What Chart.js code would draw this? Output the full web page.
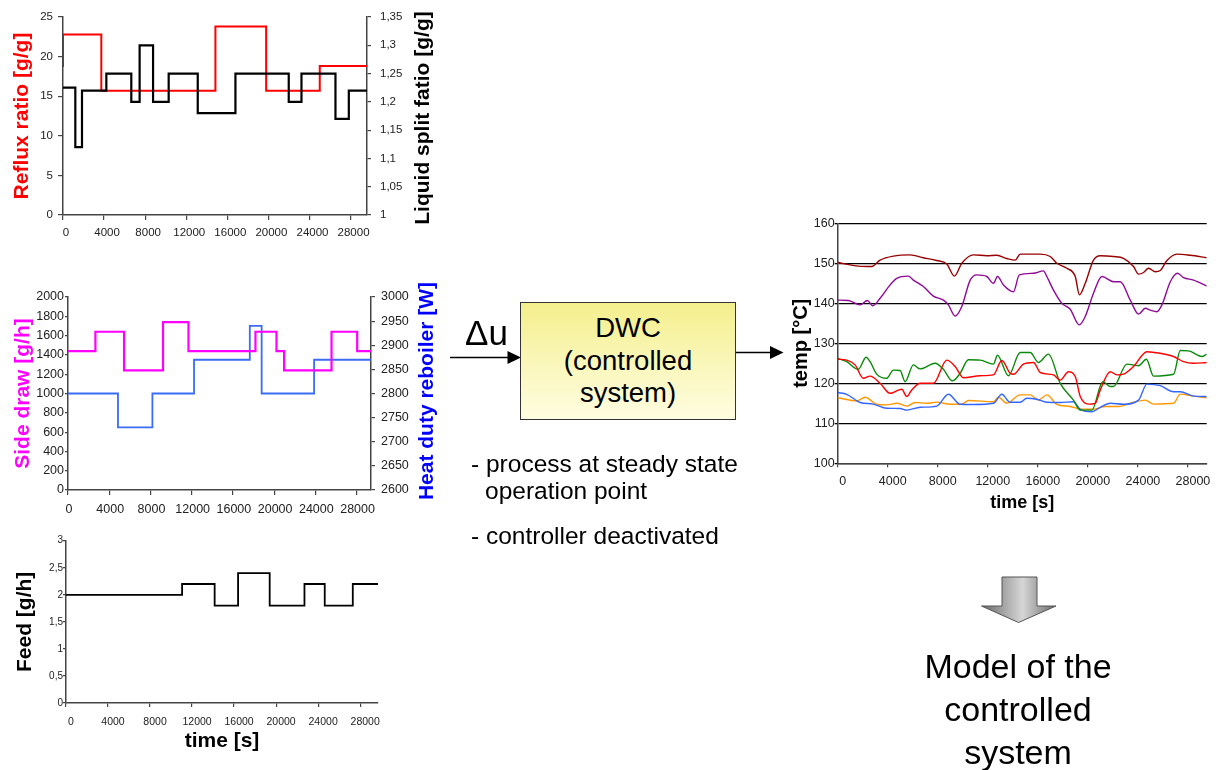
<!DOCTYPE html>
<html><head><meta charset="utf-8">
<script src="https://cdn.jsdelivr.net/npm/chart.js@4.4.1/dist/chart.umd.min.js"></script>
<style>
html,body{margin:0;padding:0;background:#fff;}
#stage{position:relative;width:1219px;height:770px;overflow:hidden;font-family:"Liberation Sans",Arial,sans-serif;color:#000;}
canvas{position:absolute;}
.vt{position:absolute;transform:translate(-50%,-50%) rotate(-90deg);white-space:nowrap;font-weight:bold;font-size:21px;line-height:1;}
.txt{position:absolute;white-space:nowrap;line-height:1;}
#box{position:absolute;left:520px;top:302px;width:216px;height:118px;box-sizing:border-box;border:1px solid #333;
 background:linear-gradient(to bottom,#f4ef8c 0%,#faf7bd 55%,#fefde0 100%);text-align:center;font-size:27.5px;line-height:32.5px;padding-top:9px;}
</style></head>
<body><div id="stage">
<canvas id="c1" width="440" height="245" style="left:0;top:0;width:440px;height:245px"></canvas>
<canvas id="c2" width="450" height="250" style="left:0;top:270px;width:450px;height:250px"></canvas>
<canvas id="c3" width="400" height="240" style="left:0;top:530px;width:400px;height:240px"></canvas>
<canvas id="c4" width="439" height="310" style="left:780px;top:210px;width:439px;height:310px"></canvas>

<div class="vt" style="left:421px;top:118px;color:#000">Liquid split fatio [g/g]</div>
<div class="vt" style="left:425px;top:391px;color:#0000ff">Heat duty reboiler [W]</div>

<svg width="1219" height="770" style="position:absolute;left:0;top:0;pointer-events:none">
 <defs>
  <linearGradient id="gArrow" x1="0" y1="0" x2="1" y2="0">
   <stop offset="0" stop-color="#6a6a6a"/>
   <stop offset="0.55" stop-color="#d6d6d6"/>
   <stop offset="1" stop-color="#6a6a6a"/>
  </linearGradient>
 </defs>
 <line x1="450" y1="357.5" x2="510" y2="357.5" stroke="#000" stroke-width="1.5"/>
 <polygon points="521,357.5 507.5,351 507.5,364" fill="#000"/>
 <line x1="736" y1="352.5" x2="773" y2="352.5" stroke="#000" stroke-width="1.5"/>
 <polygon points="783.5,352.5 770,346 770,359" fill="#000"/>
 <polygon points="1002,577 1037,577 1037,606 1056,606 1018.5,622.5 981.5,606 1002,606" fill="url(#gArrow)" stroke="#555" stroke-width="1"/>
</svg>

<div class="txt" style="left:465px;top:315px;font-size:35px;">Δu</div>
<div id="box">DWC<br>(controlled<br>system)</div>
<div class="txt" style="left:471px;top:452px;font-size:24.5px;">- process at steady state</div>
<div class="txt" style="left:485px;top:479px;font-size:24.5px;">operation point</div>
<div class="txt" style="left:471px;top:524px;font-size:24.5px;">- controller deactivated</div>
<div class="txt" style="left:918px;top:645px;width:200px;text-align:center;font-size:34px;line-height:43px;">Model of the<br>controlled<br>system</div>
</div>
<script>
// ---------- DATA ----------
// shared time tick labels [s]
const timeTicks = [0, 4000, 8000, 12000, 16000, 20000, 24000, 28000];

// Top: reflux ratio [g/g] (left axis) and liquid split ratio [g/g] (right axis)
const refluxTime  = [0, 0, 3730, 14840, 19780, 25000, 29600];
const refluxRatio = [18.7, 22.8, 15.7, 23.8, 15.7, 18.8, 18.8];
const splitTime   = [0, 1200, 1850, 4220, 6650, 7460, 8770, 10290, 13120, 16790, 21980, 23220, 26530, 27830, 29600];
const splitRatio  = [1.225, 1.12, 1.22, 1.25, 1.20, 1.30, 1.20, 1.25, 1.18, 1.25, 1.20, 1.25, 1.17, 1.22, 1.22];
const refluxTicks = [0, 5, 10, 15, 20, 25];
const splitTicks  = [1, 1.05, 1.1, 1.15, 1.2, 1.25, 1.3, 1.35];

// Middle: side draw [g/h] (left) and heat duty reboiler [W] (right)
const sideTime  = [0, 2660, 5440, 9220, 11690, 18190, 20230, 20970, 25570, 28060, 29400];
const sideDraw  = [1440, 1640, 1240, 1740, 1440, 1640, 1440, 1240, 1640, 1440, 1440];
const heatTime  = [0, 4850, 8190, 12230, 17640, 18790, 23880, 29400];
const heatDuty  = [2800, 2730, 2800, 2870, 2940, 2800, 2870, 2870];
const sideTicks = [0, 200, 400, 600, 800, 1000, 1200, 1400, 1600, 1800, 2000];
const heatTicks = [2600, 2650, 2700, 2750, 2800, 2850, 2900, 2950, 3000];

// Bottom: feed [g/h]
const feedTime  = [0, 11050, 14150, 16380, 19390, 22700, 24630, 27300, 29700];
const feedRate  = [2.0, 2.2, 1.8, 2.4, 1.8, 2.2, 1.8, 2.2, 2.2];
const feedTicks = [0, 0.5, 1, 1.5, 2, 2.5, 3];

// Right: temperatures [°C]
const darkredTime = [0,1650,2720,3390,4450,5790,6850,7920,8720,9330,9920,10850,11920,12720,13520,14190,14590,16190,16990,17520,18320,18990,19330,19790,20450,20990,22050,22850,23650,24050,24450,24850,25390,25790,26320,27120,28190,29500];
const darkredTemp = [150.2,149.3,149.2,150.8,151.8,152.1,151.4,150.7,149.8,146.8,150,152.1,151.9,152,151.2,150.8,152.3,152.3,151.7,150,148.75,146.7,142.1,145,150.8,151.9,151.7,151.25,149.2,147.3,147.7,148.75,147.9,148.2,150.7,152.3,152,151.4];
const purpleTime = [0,850,1790,2370,2800,3390,4190,4720,5650,6050,6850,7650,8450,8850,9390,9920,10590,11120,11920,12450,12770,13250,14050,14520,15650,16450,16720,17250,17920,18590,19310,19790,20450,21120,22050,22590,23390,24050,24590,24990,25520,25920,26590,27180,27650,28450,29500];
const purpleTemp = [140.8,140.7,139.6,140.7,139.4,141.25,144.6,146.25,146.8,145.8,144.2,141.8,140.8,139.6,136.8,139.2,145.8,147.1,146.7,145,146.7,144.6,142.9,147.1,147.5,148.1,146.7,143.3,140,138.5,134.6,136.7,142.5,146.7,145.4,145.4,140.8,137.3,138.75,138.3,137.9,139.6,145.4,147.5,146.4,145.8,144.3];
const redTime = [0,720,1390,2050,2590,3390,4190,4850,5120,5520,5920,6590,7650,8720,9390,10050,11390,12450,13120,13790,14050,14850,15650,16190,17250,17790,18450,18990,19390,20050,20590,20990,21790,22320,22850,23650,24720,25790,26850,27650,28450,29500];
const redTemp = [126,125.8,124.6,121.25,121.8,120,117.5,118.3,118.5,116.7,118.3,120,120,125.8,124.2,121.4,121.9,122.1,125.7,122.5,122.25,124.8,125.2,122.7,122.1,120.8,122.9,121.7,116.7,114.8,115,118.3,122.9,122.1,122.3,124.2,127.9,127.5,126.7,125.4,125,125.2];
const greenTime = [0,720,1650,2270,2590,3120,3920,4450,4990,5390,6050,6590,7790,8450,9170,9790,10450,11390,12450,12770,13650,14590,15390,16050,16850,17790,18850,19390,20320,21190,21790,22050,23120,24050,24680,25250,26850,27390,28050,29120,29500];
const greenTemp = [126.25,125.4,123.5,126.5,125.4,122.3,121.25,123.3,123.2,120.4,124.6,123.6,125,123.5,120.6,122.5,125.9,125.8,124.8,127,121.9,127.7,127.7,125.2,127.3,120,115.8,113.3,113.3,120.4,119.2,119.2,124.8,124.4,126,121.8,122.25,128.2,128.1,126.7,127.3];
const blueTime = [0,720,1790,2850,3920,4990,5520,6590,7920,8850,9790,10850,12450,13120,13790,14590,15120,15920,16720,17790,18850,19390,20320,20990,21790,22850,24050,24720,25790,26850,27390,28450,29500];
const blueTemp = [117.7,117.25,115.2,114.8,113.75,113.7,113.3,114,114.3,117.25,114.75,114.7,115,117.25,115.25,115.25,116.25,116,115.25,115.2,115.4,113.5,112.9,114,115,114.75,115.8,119.8,119.4,117.9,117.9,116.8,116.7];
const orangeTime = [0,1520,2190,3120,3920,4720,5520,6190,7120,7920,8990,9920,10450,12450,12850,13520,14590,15390,16050,16720,17520,18590,19390,20450,21390,22450,23650,24590,25250,26850,27390,28450,29500];
const orangeTemp = [116.4,115.6,116.5,114.75,114.6,115,114.3,115.2,115,115.3,114.75,114.75,115.7,115.4,116.5,115,117.1,117.1,115.8,117.1,114.75,114.2,113.6,113.5,114.2,114.2,115.25,115.8,114.8,115,117.3,116.8,116.4];
const tempTicks = [100, 110, 120, 130, 140, 150, 160];

// ---------- HELPERS ----------
Chart.defaults.font.family = '"Liberation Sans", Arial, sans-serif';
Chart.defaults.color = '#222';
Chart.defaults.animation = false;

const fmtPlain = v => String(Math.round(v));
const fmtComma = v => String(Math.round(v * 1000) / 1000).replace('.', ',');
const pts = (ts, vs) => ts.map((t, i) => ({x: t, y: vs[i]}));
const setTicks = list => (s => { s.ticks = list.map(v => ({value: v})); });

function xAxis(o) {
  return {
    type: 'linear', position: 'bottom', min: 0, max: o.max,
    afterFit: s => { s.height = o.h; },
    afterBuildTicks: setTicks(timeTicks),
    border: {display: true, color: '#444', width: 1.5},
    grid: {display: true, drawOnChartArea: false, drawTicks: true, tickLength: o.tl, color: '#444', lineWidth: 1.2},
    ticks: {autoSkip: false, maxRotation: 0, minRotation: 0,
            padding: o.pad, labelOffset: o.off || 0, font: {size: o.fs}, color: '#222', callback: fmtPlain},
    title: o.title ? {display: true, text: o.title, color: '#000',
            font: {size: o.tfs, weight: 'bold', lineHeight: 1}, padding: {top: 0, bottom: o.tpad}} : {display: false}
  };
}
function yAxis(o) {
  return {
    type: 'linear', position: o.pos, min: o.ticks[0], max: o.ticks[o.ticks.length - 1],
    afterFit: s => { s.width = o.w; },
    afterBuildTicks: setTicks(o.ticks),
    border: {display: true, color: '#444', width: 1.5},
    grid: {display: true, drawOnChartArea: !!o.gridOn, drawTicks: true, tickLength: o.tl,
           color: o.gridColor || '#444', lineWidth: o.glw || 1.2},
    ticks: {autoSkip: false, padding: o.pad,
            font: {size: o.fs}, color: '#222', callback: o.fmt || fmtPlain},
    title: o.title ? {display: true, text: o.title, color: o.tc || '#000',
            font: {size: o.tfs, weight: 'bold', lineHeight: 1}, padding: {top: o.tpad, bottom: 0}} : {display: false}
  };
}
function stepSet(data, color, axis, width) {
  return {data, yAxisID: axis, borderColor: color, backgroundColor: color, borderWidth: width || 2,
          stepped: true, pointRadius: 0, fill: false};
}
function tempSet(data, color) {
  return {data, yAxisID: 'y', borderColor: color, backgroundColor: color, borderWidth: 1.4,
          cubicInterpolationMode: 'monotone', pointRadius: 0, fill: false};
}
const basePlugins = {legend: {display: false}, tooltip: {enabled: false}};

// ---------- CHART 1 ----------
new Chart(document.getElementById('c1'), {
  type: 'line',
  data: {datasets: [
    stepSet(pts(splitTime, splitRatio), '#000000', 'yR', 2.2),
    stepSet(pts(refluxTime, refluxRatio), '#ff0000', 'yL', 2)
  ]},
  options: {
    responsive: false, animation: false,
    layout: {padding: {top: 17, left: 0, right: 0, bottom: 0}},
    plugins: basePlugins,
    scales: {
      x: xAxis({max: 29600, h: 30, tl: 5, pad: 6, fs: 11.5, off: 3}),
      yL: yAxis({pos: 'left', ticks: refluxTicks, w: 63, tl: 5, pad: 5, fs: 11.5,
                 title: 'Reflux ratio [g/g]', tc: '#ff0000', tfs: 21, tpad: 12}),
      yR: yAxis({pos: 'right', ticks: splitTicks, w: 73, tl: 4, pad: 9, fs: 11.5, fmt: fmtComma})
    }
  }
});

// ---------- CHART 2 ----------
new Chart(document.getElementById('c2'), {
  type: 'line',
  data: {datasets: [
    stepSet(pts(sideTime, sideDraw), '#ff00ff', 'yL', 2.2),
    stepSet(pts(heatTime, heatDuty), '#3a6cf4', 'yR', 1.8)
  ]},
  options: {
    responsive: false, animation: false,
    layout: {padding: {top: 27, left: 0, right: 0, bottom: 0}},
    plugins: basePlugins,
    scales: {
      x: xAxis({max: 29400, h: 30, tl: 5, pad: 7, fs: 12.5, off: 1}),
      yL: yAxis({pos: 'left', ticks: sideTicks, w: 68, tl: 3, pad: 1, fs: 12.5,
                 title: 'Side draw [g/h]', tc: '#ff00ff', tfs: 21, tpad: 12.5}),
      yR: yAxis({pos: 'right', ticks: heatTicks, w: 79, tl: 4, pad: 6, fs: 12.5})
    }
  }
});

// ---------- CHART 3 ----------
new Chart(document.getElementById('c3'), {
  type: 'line',
  data: {datasets: [ stepSet(pts(feedTime, feedRate), '#000000', 'y', 1.8) ]},
  options: {
    responsive: false, animation: false,
    layout: {padding: {top: 10.7, left: 0, right: 22, bottom: 0}},
    plugins: basePlugins,
    scales: {
      x: xAxis({max: 29700, h: 67, tl: 4, pad: 9, fs: 10.5, off: 5,
                title: 'time [s]', tfs: 21, tpad: 18.5}),
      y: yAxis({pos: 'left', ticks: feedTicks, w: 66, tl: 3, pad: 0, fs: 10, fmt: fmtComma,
                title: 'Feed [g/h]', tfs: 21, tpad: 14.5})
    }
  }
});

// ---------- CHART 4 ----------
new Chart(document.getElementById('c4'), {
  type: 'line',
  data: {datasets: [
    tempSet(pts(darkredTime, darkredTemp), '#990000'),
    tempSet(pts(purpleTime, purpleTemp), '#8e0a96'),
    tempSet(pts(redTime, redTemp), '#ff0000'),
    tempSet(pts(greenTime, greenTemp), '#0a8a0a'),
    tempSet(pts(blueTime, blueTemp), '#3366ff'),
    tempSet(pts(orangeTime, orangeTemp), '#ff9900')
  ]},
  options: {
    responsive: false, animation: false,
    layout: {padding: {top: 13.3, left: 0, right: 12.3, bottom: 0}},
    plugins: basePlugins,
    scales: {
      x: xAxis({max: 29500, h: 56.7, tl: 4, pad: 7, fs: 12.5, off: 5,
                title: 'time [s]', tfs: 18, tpad: 7.7}),
      y: yAxis({pos: 'left', ticks: tempTicks, w: 57.7, tl: 3, pad: 0, fs: 12.5,
                gridOn: true, gridColor: '#000', glw: 1.3, title: 'temp [°C]', tfs: 20, tpad: 11})
    }
  }
});
</script>
</body></html>
